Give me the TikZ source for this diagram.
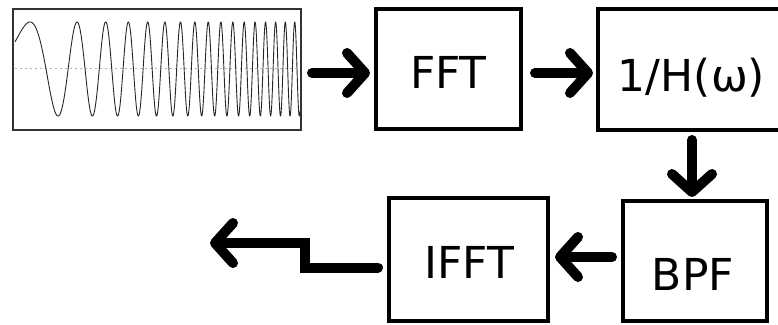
\documentclass[tikz,border=0pt]{standalone}
\usepackage{fontspec}
\setmainfont{DejaVu Sans}
\usetikzlibrary{arrows.meta}
\tikzset{
  blk/.style={draw=black, line width=4pt, rectangle, inner sep=0pt, outer sep=0pt},
  sigbox/.style={draw=black!80, line width=2pt, rectangle, inner sep=0pt, outer sep=0pt},
  lbl/.style={font=\fontsize{44}{52}\selectfont, inner sep=0pt, anchor=base},
  arr/.style={line width=10pt, line cap=round, line join=miter,
     -{Straight Barb[length=18pt,width=40pt,round]}},
}
\begin{document}
\begin{tikzpicture}[x=1pt,y=-1pt]
\useasboundingbox (0,0) rectangle (778,324);
\clip (0,0) rectangle (778,324);
% boxes
\node[sigbox, minimum width=288pt, minimum height=121pt] (sig) at (157,69.5) {};
\node[blk, minimum width=145pt, minimum height=120pt] (fft) at (448.5,69) {};
\node[blk, minimum width=192pt, minimum height=121pt] (hinv) at (694,69.5) {};
\node[blk, minimum width=144pt, minimum height=120pt] (bpf) at (695,261) {};
\node[blk, minimum width=159pt, minimum height=123pt] (ifft) at (468.5,259.5) {};
% labels
\node[lbl] (tfft) at (448.5,88) {FFT};
\node[lbl] (thinv) at (691.5,91) {1/H(ω)};
\node[lbl] (tbpf) at (693,290) {BPF};
\node[lbl] (tifft) at (469.5,278) {IFFT};
% chirp signal
\draw[gray!60, line width=1pt, dash pattern=on 2pt off 3pt] (15,68) -- (299,68);
\draw[black!85, line width=0.9pt, line join=round]
  plot[domain=0:2.85, samples=1400] ({15+100*\x}, {69-47*sin(360*(0.74*\x+1.8*\x*\x+0.098))});
% connectors
\draw[arr] ([xshift=11pt,yshift=-3.5pt]sig.east) -- ([xshift=-6pt,yshift=-4pt]fft.west);
\draw[arr] ([xshift=14pt,yshift=-4pt]fft.east) -- ([xshift=-5pt,yshift=-3.5pt]hinv.west);
\draw[arr] ([xshift=-2pt,yshift=-10pt]hinv.south) -- ([xshift=-3pt,yshift=4pt]bpf.north);
\draw[arr] ([xshift=-11pt,yshift=4pt]bpf.west) -- ([xshift=7pt,yshift=2.5pt]ifft.east);
\coordinate (out) at (210,243);
\draw[arr] ([xshift=-11pt,yshift=-8pt]ifft.west) -- (305,267.5) -- (305,243) -- (out);
\end{tikzpicture}
\end{document}
